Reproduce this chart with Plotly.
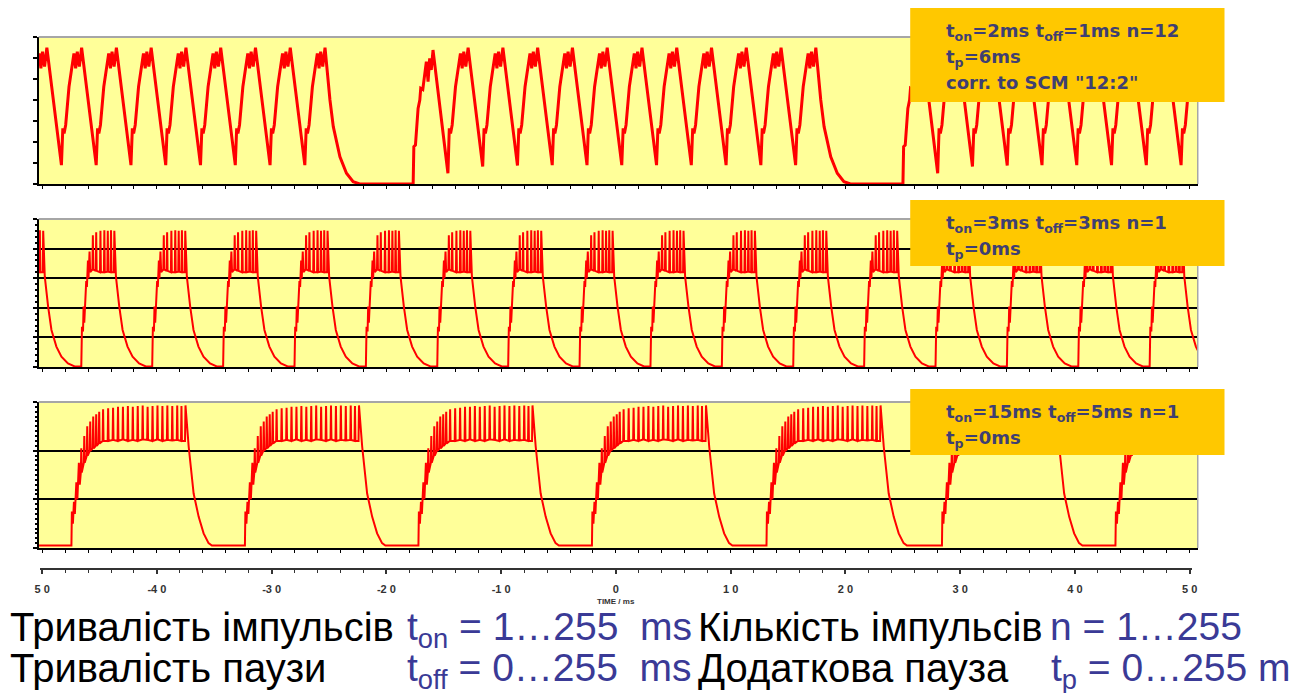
import plotly.graph_objects as go

W, H = 1289, 693

# ---------------- data (time in ms) ----------------
t_view = [-50.3, 50.7]
x_ticks = [-50, -40, -30, -20, -10, 0, 10, 20, 30, 40, 50]
x_tick_text = ["5 0", "-4 0", "-3 0", "-2 0", "-1 0", "0", "1 0", "2 0", "3 0", "4 0", "5 0"]

# Panel 1: t_on=2ms t_off=1ms n=12 t_p=6ms
p1_burst_start = [-60.44, -17.67, 25.01]
p1_pulse_count = 12
p1_pulse_period = 3.03
p1_first_t = [0.00, 0.06, 0.20, 0.43, 0.58, 0.66, 0.84, 1.01, 1.15, 1.30, 1.44, 1.58, 1.73]
p1_first_v = [0.00, 1.78, 1.85, 3.60, 4.00, 4.56, 4.50, 5.27, 5.83, 4.87, 5.98, 5.43, 6.38]
p1_pulse_t = [0.00, 0.12, 0.23, 0.37, 0.66, 0.95, 1.09, 1.24, 1.38, 1.56, 1.76]
p1_pulse_v = [0.88, 2.65, 2.41, 2.81, 4.63, 5.67, 6.22, 5.51, 6.30, 5.59, 6.49]
p1_trough_v = [0.51, 0.83, 0.88, 0.90, 0.90, 0.90, 0.90, 0.90, 0.90, 0.90, 0.90]
p1_decay_t = [0.00, 0.43, 0.72, 1.30, 1.87, 2.45, 3.02]
p1_decay_v = [6.49, 4.00, 2.73, 1.30, 0.51, 0.11, 0.00]

# Panel 2: t_on=3ms t_off=3ms n=1 t_p=0ms
p2_burst_start = [-52.79, -46.59, -40.41, -34.23, -28.01, -21.79, -15.57, -9.39,
                  -3.17, 3.01, 9.23, 15.45, 21.63, 27.85, 34.07, 40.29, 46.51]
p2_base = 0.02
p2_rise_t = [0.00, 0.06, 0.15, 0.20, 0.26, 0.35, 0.43, 0.49, 0.58, 0.63, 0.72, 0.78]
p2_rise_v = [0.02, 1.36, 1.20, 2.04, 1.50, 2.20, 2.90, 2.70, 3.60, 3.00, 3.90, 3.20]
p2_tooth_t = [1.01, 1.30, 1.67, 2.01, 2.31, 2.59, 2.88]
p2_tooth_top = [4.45, 4.55, 4.60, 4.62, 4.60, 4.62, 4.60]
p2_tooth_bot = [3.30, 3.25, 3.20, 3.20, 3.22, 3.20, 3.20]
p2_decay_t = [3.02, 3.31, 3.60, 4.03, 4.47, 5.04, 5.62]
p2_decay_v = [3.05, 2.04, 1.25, 0.69, 0.35, 0.12, 0.02]

# Panel 3: t_on=15ms t_off=5ms n=1 t_p=0ms
p3_burst_start = [-62.57, -47.45, -32.33, -17.21, -2.09, 13.12, 28.41, 43.53]
p3_base = 0.05
p3_rise_t = [0.00, 0.04, 0.13, 0.22, 0.30, 0.43, 0.52, 0.65, 0.73]
p3_rise_v = [0.05, 0.75, 0.50, 0.95, 0.70, 1.35, 1.00, 1.75, 1.30]
p3_tooth_t = [0.86, 1.12, 1.38, 1.64, 1.90, 2.16, 2.42, 2.76, 3.20, 3.63, 4.06, 4.49, 4.92,
              5.35, 5.78, 6.21, 6.64, 7.07, 7.50, 7.93, 8.36, 8.79, 9.22, 9.59, 9.94]
p3_tooth_top = [2.05, 2.30, 2.50, 2.60, 2.70, 2.75, 2.80, 2.85, 2.87, 2.88, 2.90, 2.90, 2.92,
                2.90, 2.92, 2.93, 2.90, 2.92, 2.93, 2.92, 2.93, 2.92, 2.93, 2.92, 2.93]
p3_tooth_bot = [1.55, 1.75, 1.90, 2.00, 2.05, 2.10, 2.15, 2.20, 2.20, 2.22, 2.20, 2.23, 2.20,
                2.22, 2.20, 2.23, 2.22, 2.20, 2.23, 2.20, 2.22, 2.21, 2.22, 2.20, 2.20]
p3_decay_t = [10.22, 10.65, 11.09, 11.52, 11.95, 12.24]
p3_decay_v = [2.08, 1.12, 0.64, 0.30, 0.10, 0.05]

box_lines = [
    ["t<sub>on</sub>=2ms t<sub>off</sub>=1ms n=12", "t<sub>p</sub>=6ms", "corr. to SCM \"12:2\""],
    ["t<sub>on</sub>=3ms t<sub>off</sub>=3ms n=1", "t<sub>p</sub>=0ms"],
    ["t<sub>on</sub>=15ms t<sub>off</sub>=5ms n=1", "t<sub>p</sub>=0ms"],
]
caption_black = ["Тривалість імпульсів", "Кількість імпульсів", "Тривалість паузи", "Додаткова пауза"]
caption_blue = ["t<sub>on</sub> = 1…255\u00a0\u00a0ms", "n = 1…255",
                "t<sub>off</sub> = 0…255\u00a0\u00a0ms", "t<sub>p</sub> = 0…255 ms"]


# ---------------- build traces ----------------
def build_p1():
    xs, ys = [], []
    for s in p1_burst_start:
        for t, v in zip(p1_first_t, p1_first_v):
            xs.append(s + t); ys.append(v)
        st = s
        for k in range(1, p1_pulse_count):
            st = s + k * p1_pulse_period
            for j, (t, v) in enumerate(zip(p1_pulse_t, p1_pulse_v)):
                xs.append(st + t)
                ys.append(p1_trough_v[k - 1] if j == 0 else v)
        peak = st + p1_pulse_t[-1]
        for t, v in zip(p1_decay_t[1:], p1_decay_v[1:]):
            xs.append(peak + t); ys.append(v)
    return xs, ys


def build_burst(starts, base, rise_t, rise_v, tt, ttop, tbot, dt, dv, edge=0.04):
    xs, ys = [], []
    for s in starts:
        for t, v in zip(rise_t, rise_v):
            xs.append(s + t); ys.append(v)
        n = len(tt)
        for i in range(n):
            xs += [s + tt[i] - edge, s + tt[i]]
            ys += [tbot[i], ttop[i]]
            if i < n - 1:
                xs.append(s + tt[i] + edge); ys.append(tbot[i])
        for t, v in zip(dt, dv):
            xs.append(s + t); ys.append(v)
    xs.append(t_view[1] + 2); ys.append(base)
    return xs, ys


x1, y1 = build_p1()
x2, y2 = build_burst(p2_burst_start, p2_base, p2_rise_t, p2_rise_v, p2_tooth_t, p2_tooth_top,
                     p2_tooth_bot, p2_decay_t, p2_decay_v)
x3, y3 = build_burst(p3_burst_start, p3_base, p3_rise_t, p3_rise_v, p3_tooth_t, p3_tooth_top,
                     p3_tooth_bot, p3_decay_t, p3_decay_v)

RED = "#FF0000"
fig = go.Figure()
fig.add_trace(go.Scatter(x=x1, y=y1, mode="lines", line=dict(color=RED, width=3), xaxis="x", yaxis="y"))
fig.add_trace(go.Scatter(x=x2, y=y2, mode="lines", line=dict(color=RED, width=2), xaxis="x2", yaxis="y2"))
fig.add_trace(go.Scatter(x=x3, y=y3, mode="lines", line=dict(color=RED, width=2), xaxis="x3", yaxis="y3"))
fig.add_trace(go.Scatter(x=[None], y=[None], mode="lines", xaxis="x4", yaxis="y4"))


def py(p):
    return 1 - p / H


def px(p):
    return p / W


xdom = [px(34), px(1203)]
xa = dict(domain=xdom, range=t_view, showline=True, linecolor="black", linewidth=2,
          ticks="outside", ticklen=3, tickcolor="black", tickwidth=1, tick0=0, dtick=2,
          showticklabels=False, showgrid=False, zeroline=False, layer="below traces")

ya_common = dict(showline=True, linecolor="black", linewidth=2, ticks="outside", ticklen=4,
                 tickcolor="black", tickwidth=1.5, dtick=1, showticklabels=False, zeroline=False)

scale = 11.574
x4_range = [t_view[0] + (35 - 34) / scale, t_view[0] + (1197 - 34) / scale]

fig.update_layout(
    width=W, height=H, margin=dict(l=0, r=0, t=0, b=0),
    paper_bgcolor="white", plot_bgcolor="rgba(0,0,0,0)", showlegend=False,
    xaxis=dict(anchor="y", **xa),
    xaxis2=dict(anchor="y2", **xa),
    xaxis3=dict(anchor="y3", **xa),
    yaxis=dict(anchor="x", domain=[py(184), py(37)], range=[0, 7], showgrid=False, **ya_common),
    yaxis2=dict(anchor="x2", domain=[py(367), py(219)], range=[0, 5], showgrid=True,
                gridcolor="black", gridwidth=1.5,
                minor=dict(dtick=0.2, ticks="outside", ticklen=2, tickcolor="black", showgrid=False),
                **ya_common),
    yaxis3=dict(anchor="x3", domain=[py(548), py(402)], range=[0, 3], showgrid=True,
                gridcolor="black", gridwidth=1.5,
                minor=dict(dtick=0.1, ticks="outside", ticklen=2, tickcolor="black", showgrid=False),
                **ya_common),
    xaxis4=dict(anchor="y4", domain=[px(35), px(1197)], range=x4_range, showline=True,
                linecolor="#333333", linewidth=1.5, ticks="outside", ticklen=5, tickcolor="#333333",
                tickwidth=1.5, tickmode="array", tickvals=x_ticks, ticktext=x_tick_text,
                tickfont=dict(family="Liberation Sans, Arial", size=11, color="#333333", weight="bold"),
                ticklabelstandoff=6,
                minor=dict(tickmode="linear", tick0=0, dtick=2, ticks="outside", ticklen=4,
                           tickcolor="#333333", tickwidth=1.2, showgrid=False),
                showgrid=False, zeroline=False),
    yaxis4=dict(anchor="x4", domain=[py(567.5), py(567)], visible=False, range=[0, 1]),
)

shapes = []
YEL = "#FFFF99"
for xr, yr in [("x", "y"), ("x2", "y2"), ("x3", "y3")]:
    shapes.append(dict(type="rect", xref=f"{xr} domain", yref=f"{yr} domain", x0=0, x1=1, y0=0, y1=1,
                       fillcolor=YEL, line=dict(width=0), layer="below"))
    shapes.append(dict(type="line", xref=f"{xr} domain", yref=f"{yr} domain", x0=0, x1=1, y0=1, y1=1,
                       line=dict(color="#A6A6A6", width=2), layer="above"))
    shapes.append(dict(type="line", xref=f"{xr} domain", yref=f"{yr} domain", x0=1, x1=1, y0=0, y1=1,
                       line=dict(color="#A6A6A6", width=1.5), layer="above"))

ORANGE = "#FFC800"
box_y = [(8, 102), (200, 266), (389, 455)]
for (y0, y1b) in box_y:
    shapes.append(dict(type="rect", xref="paper", yref="paper", x0=px(913), x1=px(1230),
                       y0=py(y1b), y1=py(y0), fillcolor=ORANGE, line=dict(width=0), layer="above"))
fig.update_layout(shapes=shapes)

ann = []
BOXTXT = "#3F3F72"
for (y0, _), lines in zip(box_y, box_lines):
    for i, line in enumerate(lines):
        ann.append(dict(xref="paper", yref="paper", x=px(947), y=py(y0 + 10 + 26 * i),
                        xanchor="left", yanchor="top", text=line, showarrow=False,
                        font=dict(family="DejaVu Sans", size=18, color=BOXTXT, weight="bold")))

ann.append(dict(xref="paper", yref="paper", x=px(616), y=py(601), xanchor="center", yanchor="middle",
                text="TIME / ms", showarrow=False,
                font=dict(family="Liberation Sans, Arial", size=8, color="#333333", weight="bold")))

BLUE = "#3A3A96"
cap_x_black = [3, 697, 3, 697]
cap_x_blue = [403, 1052, 403, 1053]
cap_top = [603, 603, 644, 644]
for i in range(4):
    ann.append(dict(xref="paper", yref="paper", x=px(cap_x_black[i]), y=py(cap_top[i]),
                    xanchor="left", yanchor="top", text=caption_black[i], showarrow=False,
                    font=dict(family="Liberation Sans, Arial", size=40, color="black")))
    ann.append(dict(xref="paper", yref="paper", x=px(cap_x_blue[i]), y=py(cap_top[i]),
                    xanchor="left", yanchor="top", text=caption_blue[i], showarrow=False,
                    font=dict(family="Liberation Sans, Arial", size=39, color=BLUE)))
fig.update_layout(annotations=ann)

fig.write_html("out.html")
